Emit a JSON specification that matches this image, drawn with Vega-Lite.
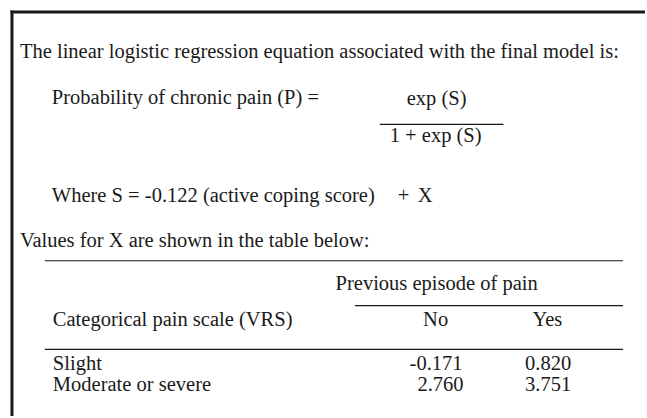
{
  "$schema": "https://vega.github.io/schema/vega-lite/v6.json",
  "width": 647,
  "height": 418,
  "autosize": {"type": "fit", "contains": "padding"},
  "padding": 0,
  "background": "white",
  "config": {"view": {"stroke": null}},
  "datasets": {
    "rules": [
      {"id": "border top", "x": 10.5, "x2": 647, "y": 12, "y2": 12, "w": 3},
      {"id": "border left", "x": 12, "x2": 12, "y": 10.5, "y2": 418, "w": 3},
      {"id": "fraction", "x": 381, "x2": 505, "y": 125, "y2": 125, "w": 1.2},
      {"id": "table top", "x": 45, "x2": 625, "y": 262, "y2": 262, "w": 1.2},
      {"id": "spanner", "x": 356, "x2": 625, "y": 307, "y2": 307, "w": 1.2},
      {"id": "header bottom", "x": 45, "x2": 625, "y": 351, "y2": 351, "w": 1.2}
    ],
    "left": [
      {"t": "The linear logistic regression equation associated with the final model is:", "x": 20, "y": 52},
      {"t": "Probability of chronic pain (P) =", "x": 52, "y": 98},
      {"t": "Where S = -0.122 (active coping score)", "x": 52, "y": 197},
      {"t": "+", "x": 399, "y": 197},
      {"t": "X", "x": 419, "y": 197},
      {"t": "Values for X are shown in the table below:", "x": 20, "y": 242},
      {"t": "Categorical pain scale (VRS)", "x": 53, "y": 322},
      {"t": "Slight", "x": 53, "y": 366},
      {"t": "Moderate or severe", "x": 53, "y": 387}
    ],
    "center": [
      {"t": "exp (S)", "x": 438, "y": 99},
      {"t": "1 + exp (S)", "x": 437, "y": 137},
      {"t": "Previous episode of pain", "x": 438, "y": 285},
      {"t": "No", "x": 437, "y": 322},
      {"t": "Yes", "x": 549, "y": 322}
    ],
    "right": [
      {"t": "-0.171", "x": 464, "y": 366},
      {"t": "0.820", "x": 573, "y": 366},
      {"t": "2.760", "x": 465, "y": 387},
      {"t": "3.751", "x": 573, "y": 387}
    ]
  },
  "layer": [
    {
      "data": {"name": "rules"},
      "mark": {"type": "rule", "color": "#1a1a1a"},
      "encoding": {
        "x": {"field": "x", "type": "quantitative", "scale": {"domain": [0, 647]}, "axis": null},
        "x2": {"field": "x2"},
        "y": {"field": "y", "type": "quantitative", "scale": {"domain": [0, 418], "reverse": true}, "axis": null},
        "y2": {"field": "y2"},
        "strokeWidth": {"field": "w", "type": "quantitative", "scale": null}
      }
    },
    {
      "data": {"name": "left"},
      "mark": {"type": "text", "align": "left", "baseline": "middle", "font": "Liberation Serif", "fontSize": 20.5, "color": "#1a1a1a"},
      "encoding": {
        "x": {"field": "x", "type": "quantitative", "scale": {"domain": [0, 647]}, "axis": null},
        "y": {"field": "y", "type": "quantitative", "scale": {"domain": [0, 418], "reverse": true}, "axis": null},
        "text": {"field": "t"}
      }
    },
    {
      "data": {"name": "center"},
      "mark": {"type": "text", "align": "center", "baseline": "middle", "font": "Liberation Serif", "fontSize": 20.5, "color": "#1a1a1a"},
      "encoding": {
        "x": {"field": "x", "type": "quantitative", "scale": {"domain": [0, 647]}, "axis": null},
        "y": {"field": "y", "type": "quantitative", "scale": {"domain": [0, 418], "reverse": true}, "axis": null},
        "text": {"field": "t"}
      }
    },
    {
      "data": {"name": "right"},
      "mark": {"type": "text", "align": "right", "baseline": "middle", "font": "Liberation Serif", "fontSize": 20.5, "color": "#1a1a1a"},
      "encoding": {
        "x": {"field": "x", "type": "quantitative", "scale": {"domain": [0, 647]}, "axis": null},
        "y": {"field": "y", "type": "quantitative", "scale": {"domain": [0, 418], "reverse": true}, "axis": null},
        "text": {"field": "t"}
      }
    }
  ]
}
